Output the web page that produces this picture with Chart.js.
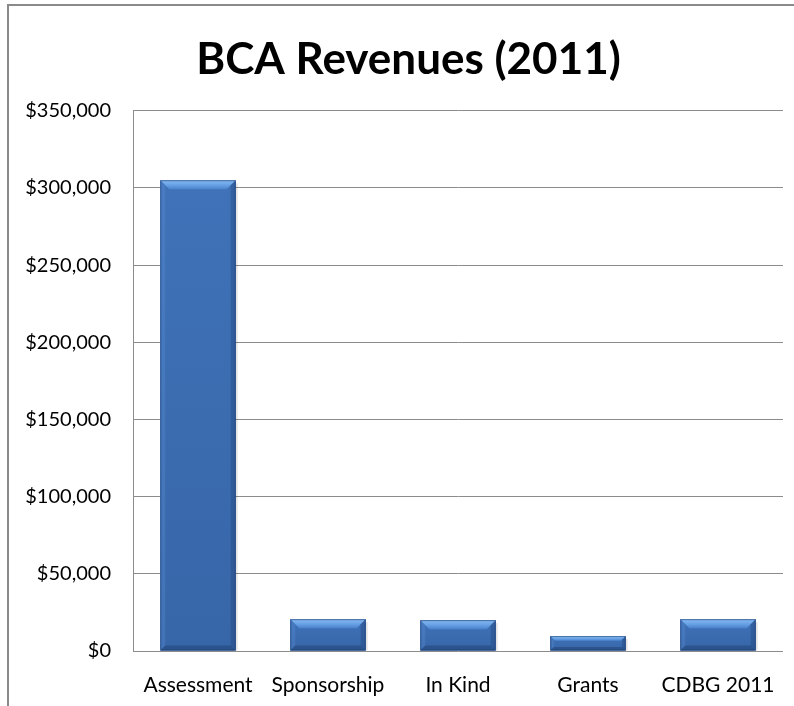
<!DOCTYPE html>
<html lang="en">
<head>
    <meta charset="UTF-8">
    <title>BCA Revenues (2011)</title>
    <script src="https://cdn.jsdelivr.net/npm/chart.js"></script>
    <style>
        html, body {
            margin: 0;
            padding: 0;
            background: #ffffff;
            overflow: hidden;
        }
        #wrap {
            position: relative;
            width: 794px;
            height: 706px;
            overflow: hidden;
        }
        #frame {
            position: absolute;
            left: 7px;
            top: 4px;
            width: 900px;
            height: 900px;
            border-left: 2px solid #8a8a8a;
            border-top: 2px solid #8a8a8a;
            pointer-events: none;
        }
        canvas {
            position: absolute;
            left: 0;
            top: 0;
        }
    </style>
</head>
<body>

<div id="wrap">
    <!-- a bit wider than the frame so the title sits over the plot -->
    <canvas id="revChart" width="817" height="706"></canvas>
    <div id="frame"></div>
</div>

<script>
    // revenue sources and amounts
    const categories = ['Assessment', 'Sponsorship', 'In Kind', 'Grants', 'CDBG 2011'];
    const revenues = [305000, 20600, 20000, 9700, 20600];
    const yMax = 350000;
    const yStep = 50000;

    // shaded "bevel" look on top of each bar
    const bevelPlugin = {
        id: 'bevel',
        afterDatasetsDraw(chart) {
            const ctx = chart.ctx;
            const meta = chart.getDatasetMeta(0);
            meta.data.forEach(bar => {
                const p = bar.getProps(['x', 'y', 'base', 'width'], true);
                const l = p.x - p.width / 2, r = p.x + p.width / 2;
                const t = p.y, b = p.base;
                const h = b - t;
                const bev = Math.min(9, h / 3);
                const side = Math.min(5, h / 4);

                ctx.save();
                // body
                let g = ctx.createLinearGradient(0, t, 0, b);
                g.addColorStop(0, '#3f72b8');
                g.addColorStop(1, '#3766a8');
                ctx.fillStyle = g;
                ctx.fillRect(l, t, r - l, h);

                // top bevel
                g = ctx.createLinearGradient(0, t, 0, t + bev);
                g.addColorStop(0, '#86b9f0');
                g.addColorStop(0.5, '#6aa3e6');
                g.addColorStop(1, '#4b82cc');
                ctx.fillStyle = g;
                ctx.beginPath();
                ctx.moveTo(l, t);
                ctx.lineTo(r, t);
                ctx.lineTo(r - bev, t + bev);
                ctx.lineTo(l + bev, t + bev);
                ctx.closePath();
                ctx.fill();

                // left edge
                ctx.fillStyle = 'rgba(90,140,210,0.35)';
                ctx.beginPath();
                ctx.moveTo(l, t);
                ctx.lineTo(l + side, t + side);
                ctx.lineTo(l + side, b - side);
                ctx.lineTo(l, b);
                ctx.closePath();
                ctx.fill();

                // right edge
                ctx.fillStyle = 'rgba(25,55,105,0.3)';
                ctx.beginPath();
                ctx.moveTo(r, t);
                ctx.lineTo(r - side, t + side);
                ctx.lineTo(r - side, b - side);
                ctx.lineTo(r, b);
                ctx.closePath();
                ctx.fill();

                // bottom edge
                ctx.fillStyle = 'rgba(20,45,90,0.35)';
                ctx.beginPath();
                ctx.moveTo(l, b);
                ctx.lineTo(l + side, b - side);
                ctx.lineTo(r - side, b - side);
                ctx.lineTo(r, b);
                ctx.closePath();
                ctx.fill();

                // thin outline
                ctx.strokeStyle = 'rgba(30,60,110,0.55)';
                ctx.lineWidth = 1;
                ctx.strokeRect(l + 0.5, t + 0.5, r - l - 1, h - 1);

                // soft shadow to the right
                ctx.fillStyle = 'rgba(0,0,0,0.10)';
                ctx.fillRect(r, t + 3, 2, h - 3);
                ctx.restore();
            });
        }
    };

    const ctx = document.getElementById('revChart').getContext('2d');
    new Chart(ctx, {
        type: 'bar',
        data: {
            labels: categories,
            datasets: [{
                data: revenues,
                backgroundColor: '#3f74bd',
                borderWidth: 0,
                barPercentage: 0.58,
                categoryPercentage: 1.0
            }]
        },
        options: {
            responsive: false,
            animation: false,
            layout: {
                padding: 0
            },
            plugins: {
                legend: { display: false },
                tooltip: { enabled: false },
                title: {
                    display: true,
                    text: 'BCA Revenues (2011)',
                    color: '#000000',
                    font: { family: 'Lato', size: 44, weight: 'bold', lineHeight: 1.2 },
                    padding: { top: 33, bottom: 25 }
                }
            },
            scales: {
                x: {
                    grid: { display: false, drawTicks: false },
                    border: { display: false },
                    ticks: {
                        color: '#000000',
                        font: { family: 'Lato', size: 21 },
                        padding: 22,
                        maxRotation: 0,
                        autoSkip: false
                    },
                    afterFit(scale) { scale.height = 55; }
                },
                y: {
                    min: 0,
                    max: yMax,
                    grid: { color: '#8c8c8c', lineWidth: 1, drawTicks: false },
                    border: { display: true, color: '#8c8c8c', width: 1 },
                    ticks: {
                        stepSize: yStep,
                        color: '#000000',
                        font: { family: 'Lato', size: 20 },
                        padding: 22,
                        callback: v => '$' + v.toLocaleString('en-US')
                    },
                    afterFit(scale) { scale.width = 133; }
                },
                // empty right-hand strip
                yRight: {
                    position: 'right',
                    min: 0,
                    max: yMax,
                    grid: { display: false, drawTicks: false },
                    border: { display: false },
                    ticks: { display: false },
                    afterFit(scale) { scale.width = 34; }
                }
            }
        },
        plugins: [bevelPlugin]
    });
</script>

</body>
</html>
